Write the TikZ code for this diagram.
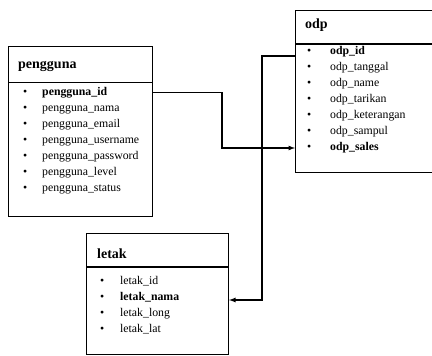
\documentclass[tikz,border=0pt]{standalone}
\usepackage{fontspec}
\setmainfont{Liberation Serif}
\usetikzlibrary{arrows,positioning}

\begin{document}
\begin{tikzpicture}[x=1pt,y=-1pt,>=latex,node distance=4.6pt,
	tbl/.style={draw,line width=1.1pt,anchor=north west,inner sep=0pt},
	ttl/.style={anchor=west,inner sep=0pt,font=\fontsize{14}{14}\selectfont\bfseries},
	fld/.style={anchor=west,inner sep=0pt,text width=130pt,align=left,text height=8pt,text depth=3pt,font=\fontsize{11.8}{12}\selectfont},
	lnk/.style={->,line width=1.2pt,shorten >=0pt}]

\useasboundingbox (0,0) rectangle (432,356);

% tables
\node[tbl,minimum width=144pt,minimum height=170pt] (pengguna) at (8,46) {};
\node[tbl,minimum width=145pt,minimum height=162pt] (odp) at (295,10) {};
\node[tbl,minimum width=142pt,minimum height=121pt] (letak) at (86,233) {};

\draw[line width=1.1pt] (8,82.5) -- (152,82.5);
\draw[line width=1.1pt] (295,44) -- (440,44);
\draw[line width=1.1pt] (86,267) -- (228,267);

\node[ttl] (tp) at (18,66) {pengguna};
\node[ttl] (to) at (305,25) {odp};
\node[ttl] (tl) at (97,254) {letak};

% pengguna fields
\node[fld] (p1) at (23,92.5) {\makebox[19pt][l]{\textbullet}\textbf{pengguna\_id}};
\node[fld] (p2) [below=of p1] {\makebox[19pt][l]{\textbullet}pengguna\_nama};
\node[fld] (p3) [below=of p2] {\makebox[19pt][l]{\textbullet}pengguna\_email};
\node[fld] (p4) [below=of p3] {\makebox[19pt][l]{\textbullet}pengguna\_username};
\node[fld] (p5) [below=of p4] {\makebox[19pt][l]{\textbullet}pengguna\_password};
\node[fld] (p6) [below=of p5] {\makebox[19pt][l]{\textbullet}pengguna\_level};
\node[fld] (p7) [below=of p6] {\makebox[19pt][l]{\textbullet}pengguna\_status};

% odp fields
\node[fld] (o1) at (307,52) {\makebox[23pt][l]{\textbullet}\textbf{odp\_id}};
\node[fld] (o2) [below=of o1] {\makebox[23pt][l]{\textbullet}odp\_tanggal};
\node[fld] (o3) [below=of o2] {\makebox[23pt][l]{\textbullet}odp\_name};
\node[fld] (o4) [below=of o3] {\makebox[23pt][l]{\textbullet}odp\_tarikan};
\node[fld] (o5) [below=of o4] {\makebox[23pt][l]{\textbullet}odp\_keterangan};
\node[fld] (o6) [below=of o5] {\makebox[23pt][l]{\textbullet}odp\_sampul};
\node[fld] (o7) [below=of o6] {\makebox[23pt][l]{\textbullet}\textbf{odp\_sales}};

% letak fields
\node[fld] (l1) at (100,282) {\makebox[20pt][l]{\textbullet}letak\_id};
\node[fld] (l2) [below=of l1] {\makebox[20pt][l]{\textbullet}\textbf{letak\_nama}};
\node[fld] (l3) [below=of l2] {\makebox[20pt][l]{\textbullet}letak\_long};
\node[fld] (l4) [below=of l3] {\makebox[20pt][l]{\textbullet}letak\_lat};

% relations
\coordinate (j1) at (222,0);
\coordinate (j2) at (262,0);

\draw[lnk] (pengguna.east |- p1) -| (j1 |- o7) -- (odp.west |- o7);
\draw[lnk] ([yshift=-4pt]odp.west |- o1) -| ([yshift=-2pt]j2 |- l2) -- ([yshift=-2pt]letak.east |- l2);

\end{tikzpicture}
\end{document}
